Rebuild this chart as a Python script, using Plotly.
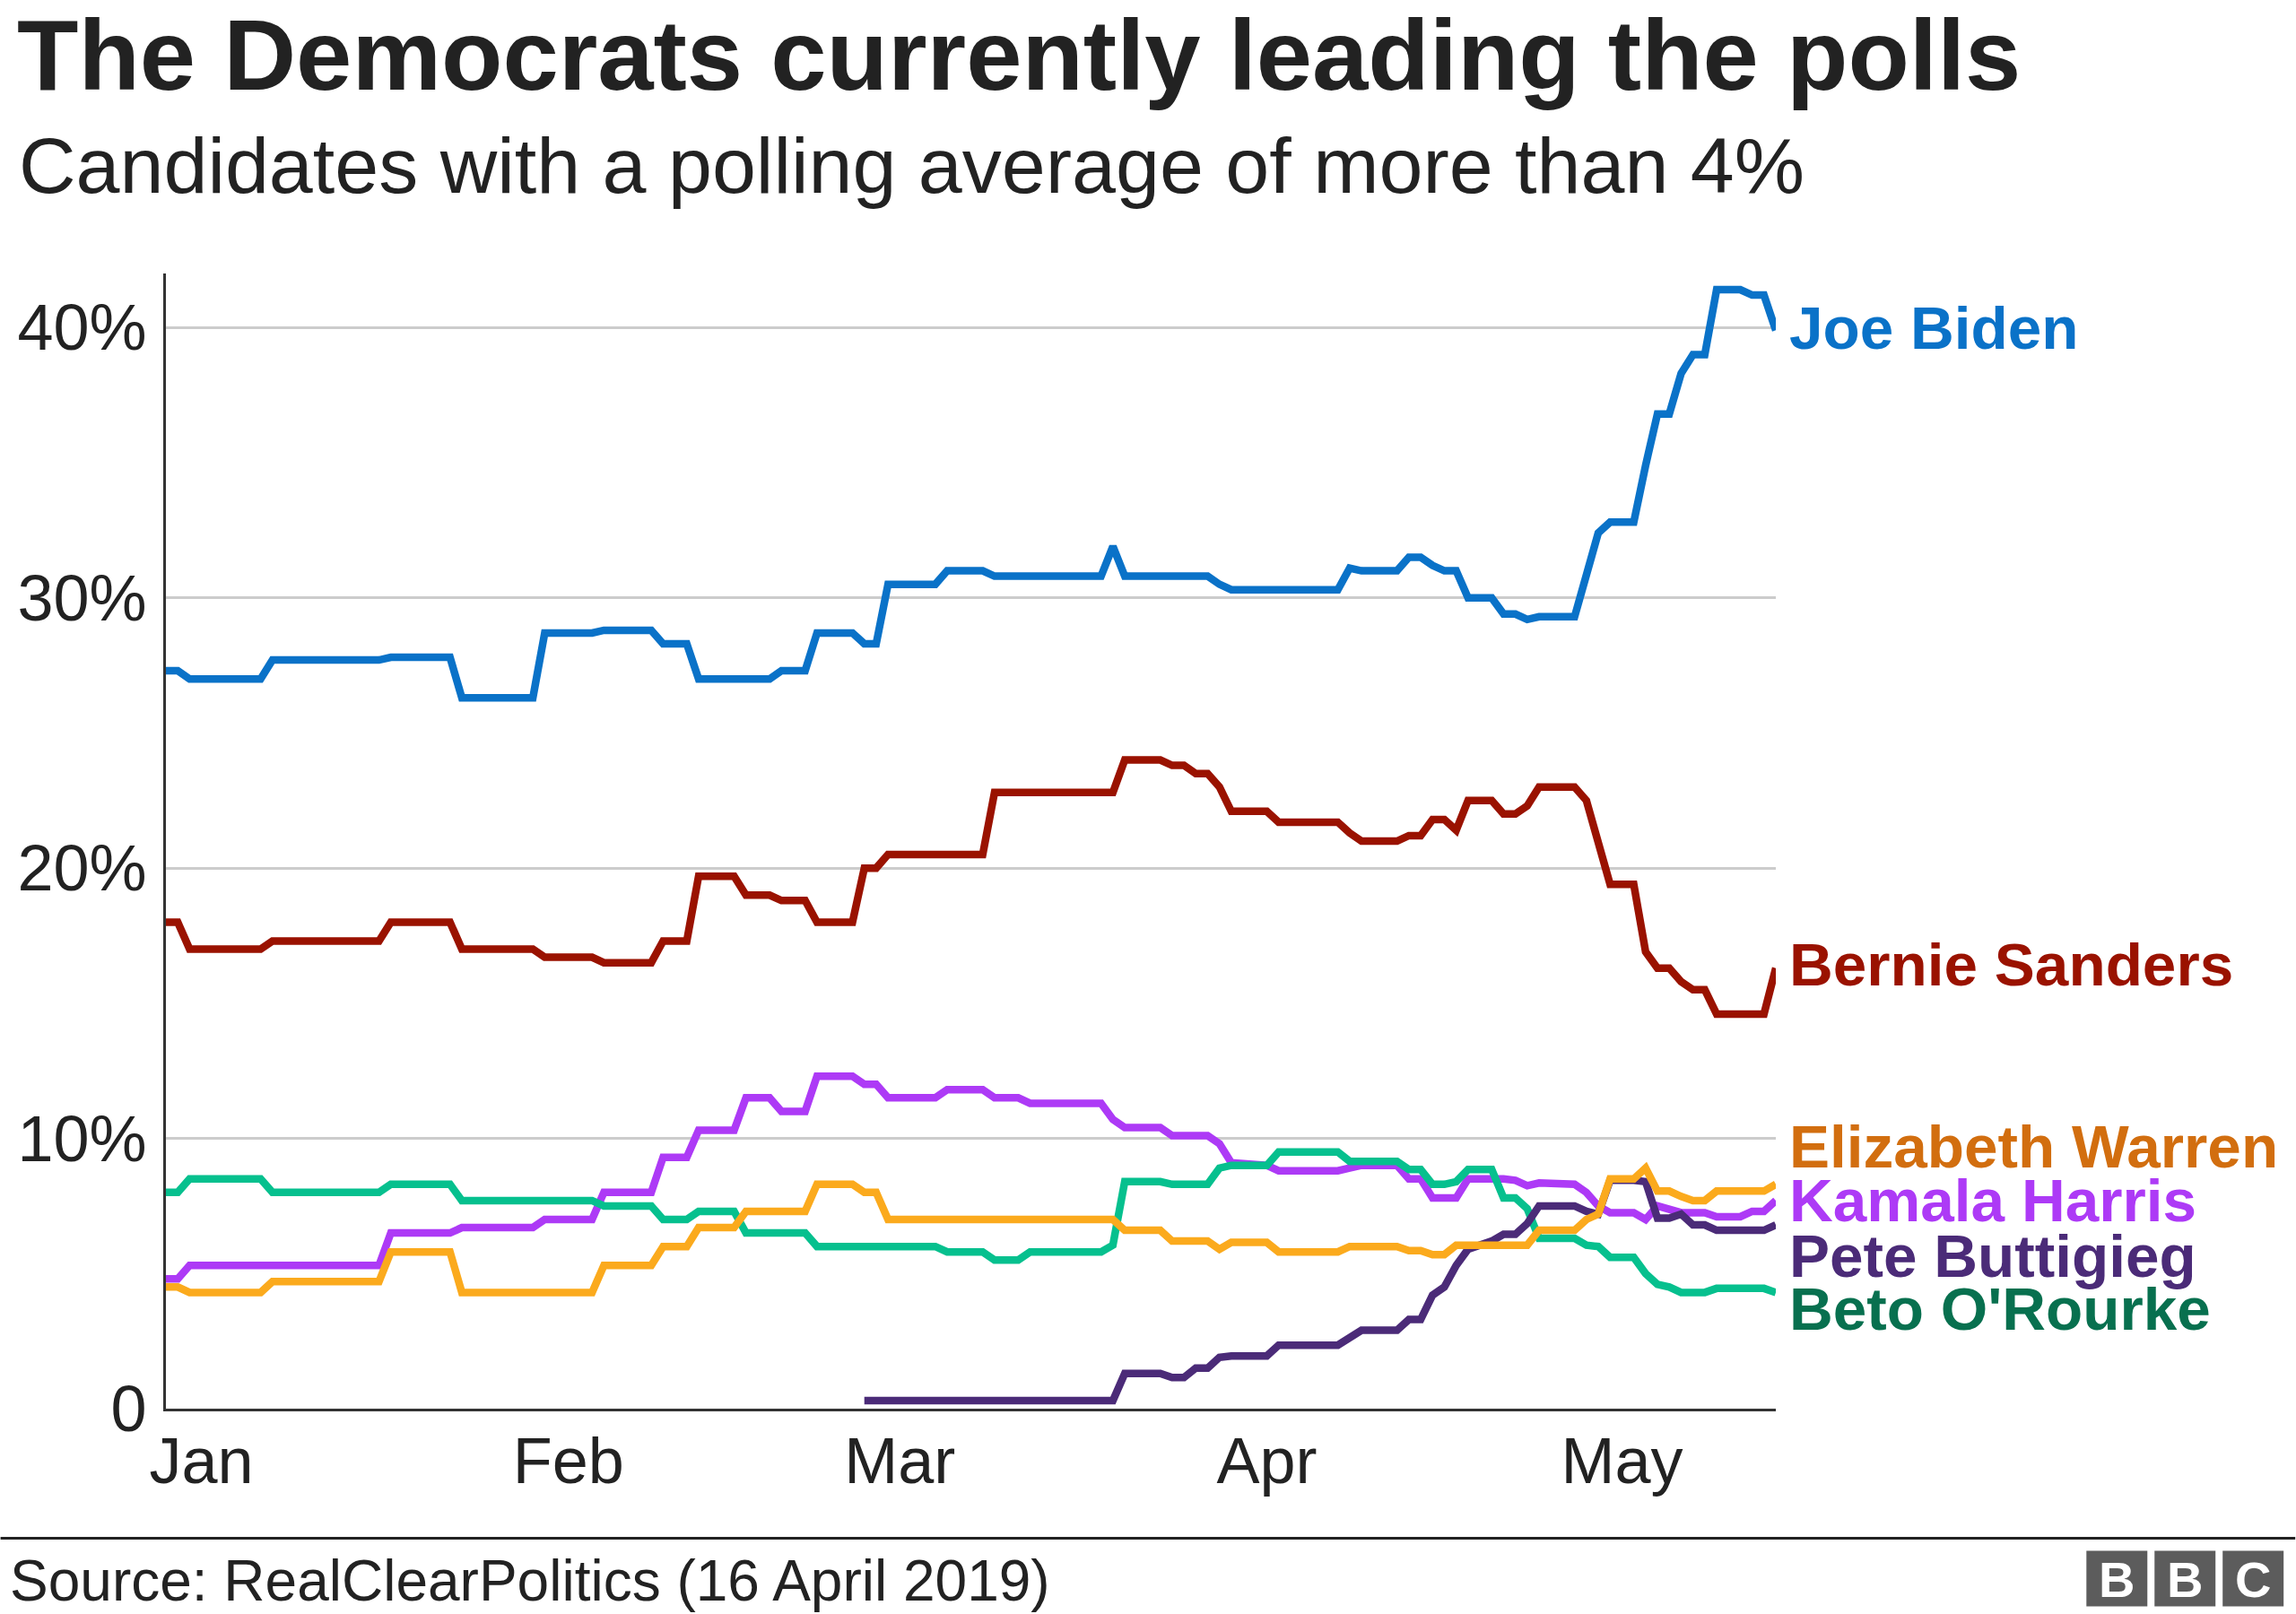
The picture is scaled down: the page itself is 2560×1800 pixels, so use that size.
import plotly.graph_objects as go

# ---------------- data ----------------
month_ticks = ["2019-01-01", "2019-02-01", "2019-03-01", "2019-04-01", "2019-05-01"]
month_labels = ["Jan", "Feb", "Mar", "Apr", "May"]
y_ticks = [0, 10, 20, 30, 40]
y_labels = ["0", "10%", "20%", "30%", "40%"]

biden = [
    ("2018-12-29", 27.3), ("2018-12-30", 27.3), ("2018-12-31", 27.0), ("2019-01-06", 27.0),
    ("2019-01-07", 27.7), ("2019-01-16", 27.7), ("2019-01-17", 27.8), ("2019-01-22", 27.8),
    ("2019-01-23", 26.3), ("2019-01-29", 26.3), ("2019-01-30", 28.7), ("2019-02-03", 28.7),
    ("2019-02-04", 28.8), ("2019-02-08", 28.8), ("2019-02-09", 28.3), ("2019-02-11", 28.3),
    ("2019-02-12", 27.0), ("2019-02-18", 27.0), ("2019-02-19", 27.3), ("2019-02-21", 27.3),
    ("2019-02-22", 28.7), ("2019-02-25", 28.7), ("2019-02-26", 28.3), ("2019-02-27", 28.3),
    ("2019-02-28", 30.5), ("2019-03-04", 30.5), ("2019-03-05", 31.0), ("2019-03-08", 31.0),
    ("2019-03-09", 30.8), ("2019-03-18", 30.8), ("2019-03-19", 31.9), ("2019-03-20", 30.8),
    ("2019-03-27", 30.8), ("2019-03-28", 30.5), ("2019-03-29", 30.3), ("2019-04-07", 30.3),
    ("2019-04-08", 31.1), ("2019-04-09", 31.0), ("2019-04-12", 31.0), ("2019-04-13", 31.5),
    ("2019-04-14", 31.5), ("2019-04-15", 31.2), ("2019-04-16", 31.0), ("2019-04-17", 31.0),
    ("2019-04-18", 30.0), ("2019-04-20", 30.0), ("2019-04-21", 29.4), ("2019-04-22", 29.4),
    ("2019-04-23", 29.2), ("2019-04-24", 29.3), ("2019-04-27", 29.3), ("2019-04-29", 32.4),
    ("2019-04-30", 32.8), ("2019-05-02", 32.8), ("2019-05-03", 34.9), ("2019-05-04", 36.8),
    ("2019-05-05", 36.8), ("2019-05-06", 38.3), ("2019-05-07", 39.0), ("2019-05-08", 39.0),
    ("2019-05-09", 41.4), ("2019-05-11", 41.4), ("2019-05-12", 41.2), ("2019-05-13", 41.2),
    ("2019-05-14", 39.9),
]

sanders = [
    ("2018-12-29", 18.0), ("2018-12-30", 18.0), ("2018-12-31", 17.0), ("2019-01-06", 17.0),
    ("2019-01-07", 17.3), ("2019-01-16", 17.3), ("2019-01-17", 18.0), ("2019-01-22", 18.0),
    ("2019-01-23", 17.0), ("2019-01-29", 17.0), ("2019-01-30", 16.7), ("2019-02-03", 16.7),
    ("2019-02-04", 16.5), ("2019-02-08", 16.5), ("2019-02-09", 17.3), ("2019-02-11", 17.3),
    ("2019-02-12", 19.7), ("2019-02-15", 19.7), ("2019-02-16", 19.0), ("2019-02-18", 19.0),
    ("2019-02-19", 18.8), ("2019-02-21", 18.8), ("2019-02-22", 18.0), ("2019-02-25", 18.0),
    ("2019-02-26", 20.0), ("2019-02-27", 20.0), ("2019-02-28", 20.5), ("2019-03-08", 20.5),
    ("2019-03-09", 22.8), ("2019-03-19", 22.8), ("2019-03-20", 24.0), ("2019-03-23", 24.0),
    ("2019-03-24", 23.8), ("2019-03-25", 23.8), ("2019-03-26", 23.5), ("2019-03-27", 23.5),
    ("2019-03-28", 23.0), ("2019-03-29", 22.1), ("2019-04-01", 22.1), ("2019-04-02", 21.7),
    ("2019-04-07", 21.7), ("2019-04-08", 21.3), ("2019-04-09", 21.0), ("2019-04-12", 21.0),
    ("2019-04-13", 21.2), ("2019-04-14", 21.2), ("2019-04-15", 21.8), ("2019-04-16", 21.8),
    ("2019-04-17", 21.4), ("2019-04-18", 22.5), ("2019-04-20", 22.5), ("2019-04-21", 22.0),
    ("2019-04-22", 22.0), ("2019-04-23", 22.3), ("2019-04-24", 23.0), ("2019-04-27", 23.0),
    ("2019-04-28", 22.5), ("2019-04-30", 19.4), ("2019-05-02", 19.4), ("2019-05-03", 16.9),
    ("2019-05-04", 16.3), ("2019-05-05", 16.3), ("2019-05-06", 15.8), ("2019-05-07", 15.5),
    ("2019-05-08", 15.5), ("2019-05-09", 14.6), ("2019-05-13", 14.6), ("2019-05-14", 16.3),
]

harris = [
    ("2018-12-29", 4.8), ("2018-12-30", 4.8), ("2018-12-31", 5.3), ("2019-01-16", 5.3),
    ("2019-01-17", 6.5), ("2019-01-22", 6.5), ("2019-01-23", 6.7), ("2019-01-29", 6.7),
    ("2019-01-30", 7.0), ("2019-02-03", 7.0), ("2019-02-04", 8.0), ("2019-02-08", 8.0),
    ("2019-02-09", 9.3), ("2019-02-11", 9.3), ("2019-02-12", 10.3), ("2019-02-15", 10.3),
    ("2019-02-16", 11.5), ("2019-02-18", 11.5), ("2019-02-19", 11.0), ("2019-02-21", 11.0),
    ("2019-02-22", 12.3), ("2019-02-25", 12.3), ("2019-02-26", 12.0), ("2019-02-27", 12.0),
    ("2019-02-28", 11.5), ("2019-03-04", 11.5), ("2019-03-05", 11.8), ("2019-03-08", 11.8),
    ("2019-03-09", 11.5), ("2019-03-11", 11.5), ("2019-03-12", 11.3), ("2019-03-18", 11.3),
    ("2019-03-19", 10.7), ("2019-03-20", 10.4), ("2019-03-23", 10.4), ("2019-03-24", 10.1),
    ("2019-03-27", 10.1), ("2019-03-28", 9.8), ("2019-03-29", 9.1), ("2019-04-01", 9.0),
    ("2019-04-02", 8.8), ("2019-04-07", 8.8), ("2019-04-08", 8.9), ("2019-04-09", 9.0),
    ("2019-04-12", 9.0), ("2019-04-13", 8.5), ("2019-04-14", 8.5), ("2019-04-15", 7.8),
    ("2019-04-17", 7.8), ("2019-04-18", 8.5), ("2019-04-21", 8.5), ("2019-04-22", 8.45),
    ("2019-04-23", 8.25), ("2019-04-24", 8.35), ("2019-04-27", 8.3), ("2019-04-28", 8.0),
    ("2019-04-29", 7.5), ("2019-04-30", 7.25), ("2019-05-02", 7.25), ("2019-05-03", 7.0),
    ("2019-05-04", 7.5), ("2019-05-05", 7.4), ("2019-05-06", 7.25), ("2019-05-08", 7.25),
    ("2019-05-09", 7.1), ("2019-05-11", 7.1), ("2019-05-12", 7.3), ("2019-05-13", 7.3),
    ("2019-05-14", 7.7),
]

warren = [
    ("2018-12-29", 4.5), ("2018-12-30", 4.5), ("2018-12-31", 4.3), ("2019-01-06", 4.3),
    ("2019-01-07", 4.7), ("2019-01-16", 4.7), ("2019-01-17", 5.8), ("2019-01-22", 5.8),
    ("2019-01-23", 4.3), ("2019-02-03", 4.3), ("2019-02-04", 5.3), ("2019-02-08", 5.3),
    ("2019-02-09", 6.0), ("2019-02-11", 6.0), ("2019-02-12", 6.7), ("2019-02-15", 6.7),
    ("2019-02-16", 7.3), ("2019-02-21", 7.3), ("2019-02-22", 8.3), ("2019-02-25", 8.3),
    ("2019-02-26", 8.0), ("2019-02-27", 8.0), ("2019-02-28", 7.0), ("2019-03-19", 7.0),
    ("2019-03-20", 6.6), ("2019-03-23", 6.6), ("2019-03-24", 6.2), ("2019-03-27", 6.2),
    ("2019-03-28", 5.9), ("2019-03-29", 6.15), ("2019-04-01", 6.15), ("2019-04-02", 5.8),
    ("2019-04-07", 5.8), ("2019-04-08", 6.0), ("2019-04-12", 6.0), ("2019-04-13", 5.85),
    ("2019-04-14", 5.85), ("2019-04-15", 5.7), ("2019-04-16", 5.7), ("2019-04-17", 6.05),
    ("2019-04-23", 6.05), ("2019-04-24", 6.6), ("2019-04-27", 6.6), ("2019-04-28", 7.0),
    ("2019-04-29", 7.2), ("2019-04-30", 8.5), ("2019-05-02", 8.5), ("2019-05-03", 8.9),
    ("2019-05-04", 8.05), ("2019-05-05", 8.05), ("2019-05-06", 7.85), ("2019-05-07", 7.7),
    ("2019-05-08", 7.7), ("2019-05-09", 8.05), ("2019-05-13", 8.05), ("2019-05-14", 8.3),
]

orourke = [
    ("2018-12-29", 8.0), ("2018-12-30", 8.0), ("2018-12-31", 8.5), ("2019-01-06", 8.5),
    ("2019-01-07", 8.0), ("2019-01-16", 8.0), ("2019-01-17", 8.3), ("2019-01-22", 8.3),
    ("2019-01-23", 7.7), ("2019-02-03", 7.7), ("2019-02-04", 7.5), ("2019-02-08", 7.5),
    ("2019-02-09", 7.0), ("2019-02-11", 7.0), ("2019-02-12", 7.3), ("2019-02-15", 7.3),
    ("2019-02-16", 6.5), ("2019-02-21", 6.5), ("2019-02-22", 6.0), ("2019-03-04", 6.0),
    ("2019-03-05", 5.8), ("2019-03-08", 5.8), ("2019-03-09", 5.5), ("2019-03-11", 5.5),
    ("2019-03-12", 5.8), ("2019-03-18", 5.8), ("2019-03-19", 6.05), ("2019-03-20", 8.4),
    ("2019-03-23", 8.4), ("2019-03-24", 8.3), ("2019-03-27", 8.3), ("2019-03-28", 8.9),
    ("2019-03-29", 9.0), ("2019-04-01", 9.0), ("2019-04-02", 9.5), ("2019-04-07", 9.5),
    ("2019-04-08", 9.15), ("2019-04-12", 9.15), ("2019-04-13", 8.85), ("2019-04-14", 8.85),
    ("2019-04-15", 8.3), ("2019-04-16", 8.3), ("2019-04-17", 8.4), ("2019-04-18", 8.85),
    ("2019-04-20", 8.85), ("2019-04-21", 7.8), ("2019-04-22", 7.8), ("2019-04-23", 7.4),
    ("2019-04-24", 6.3), ("2019-04-27", 6.3), ("2019-04-28", 6.05), ("2019-04-29", 6.0),
    ("2019-04-30", 5.6), ("2019-05-02", 5.6), ("2019-05-03", 5.0), ("2019-05-04", 4.6),
    ("2019-05-05", 4.5), ("2019-05-06", 4.3), ("2019-05-08", 4.3), ("2019-05-09", 4.45),
    ("2019-05-13", 4.45), ("2019-05-14", 4.3),
]

buttigieg = [
    ("2019-02-26", 0.3), ("2019-03-19", 0.3), ("2019-03-20", 1.3), ("2019-03-23", 1.3),
    ("2019-03-24", 1.15), ("2019-03-25", 1.15), ("2019-03-26", 1.5), ("2019-03-27", 1.5),
    ("2019-03-28", 1.9), ("2019-03-29", 1.95), ("2019-04-01", 1.95), ("2019-04-02", 2.35),
    ("2019-04-07", 2.35), ("2019-04-08", 2.65), ("2019-04-09", 2.9), ("2019-04-12", 2.9),
    ("2019-04-13", 3.3), ("2019-04-14", 3.3), ("2019-04-15", 4.2), ("2019-04-16", 4.5),
    ("2019-04-17", 5.3), ("2019-04-18", 5.9), ("2019-04-19", 6.05), ("2019-04-20", 6.2),
    ("2019-04-21", 6.45), ("2019-04-22", 6.45), ("2019-04-23", 6.85), ("2019-04-24", 7.5),
    ("2019-04-27", 7.5), ("2019-04-28", 7.3), ("2019-04-29", 7.2), ("2019-04-30", 8.45),
    ("2019-05-02", 8.45), ("2019-05-03", 8.4), ("2019-05-04", 7.05), ("2019-05-05", 7.05),
    ("2019-05-06", 7.2), ("2019-05-07", 6.8), ("2019-05-08", 6.8), ("2019-05-09", 6.6),
    ("2019-05-13", 6.6), ("2019-05-14", 6.8),
]

names = ["Joe Biden", "Bernie Sanders", "Elizabeth Warren", "Kamala Harris",
         "Pete Buttigieg", "Beto O'Rourke"]

# ---------------- styling ----------------
line_colors = {"Joe Biden": "#0a72c8", "Bernie Sanders": "#9a1200",
               "Elizabeth Warren": "#fbaa1d", "Kamala Harris": "#ad3af6",
               "Pete Buttigieg": "#4b2b78", "Beto O'Rourke": "#06c08e"}
label_colors = {"Joe Biden": "#0a72c8", "Bernie Sanders": "#9a1200",
                "Elizabeth Warren": "#d26e0f", "Kamala Harris": "#ad3af6",
                "Pete Buttigieg": "#4b2b78", "Beto O'Rourke": "#08704f"}
label_y = {"Joe Biden": 40.0, "Bernie Sanders": 16.45, "Elizabeth Warren": 9.7,
           "Kamala Harris": 7.7, "Pete Buttigieg": 5.65, "Beto O'Rourke": 3.7}

series = {"Joe Biden": biden, "Bernie Sanders": sanders, "Elizabeth Warren": warren,
          "Kamala Harris": harris, "Pete Buttigieg": buttigieg, "Beto O'Rourke": orourke}
draw_order = ["Joe Biden", "Bernie Sanders", "Kamala Harris", "Beto O'Rourke",
              "Pete Buttigieg", "Elizabeth Warren"]

W, H = 2560, 1800
PL, PR, PT, PB = 184.5, 1980.5, 305.0, 1570.6
FONT = "Liberation Sans, Arial, Helvetica, sans-serif"
TXT = "#222222"


def px_x(px):
    return (px - PL) / (PR - PL)


def px_y(py):
    return (PB - py) / (PB - PT)


fig = go.Figure()
for name in draw_order:
    pts = series[name]
    fig.add_trace(go.Scatter(
        x=[d for d, _ in pts], y=[v for _, v in pts], mode="lines", name=name,
        line=dict(color=line_colors[name], width=8.5), hoverinfo="skip"))

annotations = []
for name in names:
    annotations.append(dict(
        text="<b>" + name + "</b>", x=1, xref="paper", y=label_y[name], yref="y",
        xanchor="left", yanchor="middle", xshift=13, showarrow=False,
        font=dict(family=FONT, size=67.5, color=label_colors[name])))

annotations += [
    dict(text="<b>The Democrats currently leading the polls</b>", x=px_x(16), xref="paper",
         y=px_y(62), yref="paper", xanchor="left", yanchor="middle", showarrow=False,
         font=dict(family=FONT, size=112, color=TXT)),
    dict(text="Candidates with a polling average of more than 4%", x=px_x(18), xref="paper",
         y=px_y(185), yref="paper", xanchor="left", yanchor="middle", showarrow=False,
         font=dict(family=FONT, size=88, color=TXT)),
    dict(text="Source: RealClearPolitics (16 April 2019)", x=px_x(8), xref="paper",
         y=px_y(1763), yref="paper", xanchor="left", yanchor="middle", showarrow=False,
         font=dict(family=FONT, size=64, color=TXT)),
]

shapes = [dict(type="line", xref="paper", yref="paper", x0=px_x(0), x1=px_x(W),
               y0=px_y(1715), y1=px_y(1715), line=dict(color="#222222", width=3))]
for i, letter in enumerate(["B", "B", "C"]):
    x0 = 2327 + i * 76
    shapes.append(dict(type="rect", xref="paper", yref="paper", x0=px_x(x0),
                       x1=px_x(x0 + 68), y0=px_y(1791), y1=px_y(1729),
                       fillcolor="#5c5c5c", line=dict(width=0)))
    annotations.append(dict(text="<b>" + letter + "</b>", x=px_x(x0 + 34), xref="paper",
                            y=px_y(1761), yref="paper", xanchor="center", yanchor="middle",
                            showarrow=False, font=dict(family=FONT, size=56, color="white")))

fig.update_layout(
    width=W, height=H,
    margin=dict(l=PL, r=W - PR, t=PT, b=H - PB, pad=0),
    paper_bgcolor="white", plot_bgcolor="white", showlegend=False,
    font=dict(family=FONT, color=TXT),
    annotations=annotations, shapes=shapes,
    xaxis=dict(type="date", range=["2018-12-29", "2019-05-14"], tickvals=month_ticks,
               ticktext=month_labels, showgrid=False, zeroline=False, showline=True,
               linecolor="#333333", linewidth=3, ticks="", ticklabelstandoff=-6,
               tickfont=dict(family=FONT, size=72, color=TXT)),
    yaxis=dict(range=[0, 42], tickvals=y_ticks, ticktext=y_labels, showgrid=True,
               gridcolor="#cccccc", gridwidth=3, zeroline=False, showline=True,
               linecolor="#333333", linewidth=3, ticks="outside", ticklen=4,
               tickcolor="rgba(0,0,0,0)", tickfont=dict(family=FONT, size=72, color=TXT)),
)

fig.write_html("out.html", config={"displayModeBar": False},
               post_script="document.body.style.margin='0';")
